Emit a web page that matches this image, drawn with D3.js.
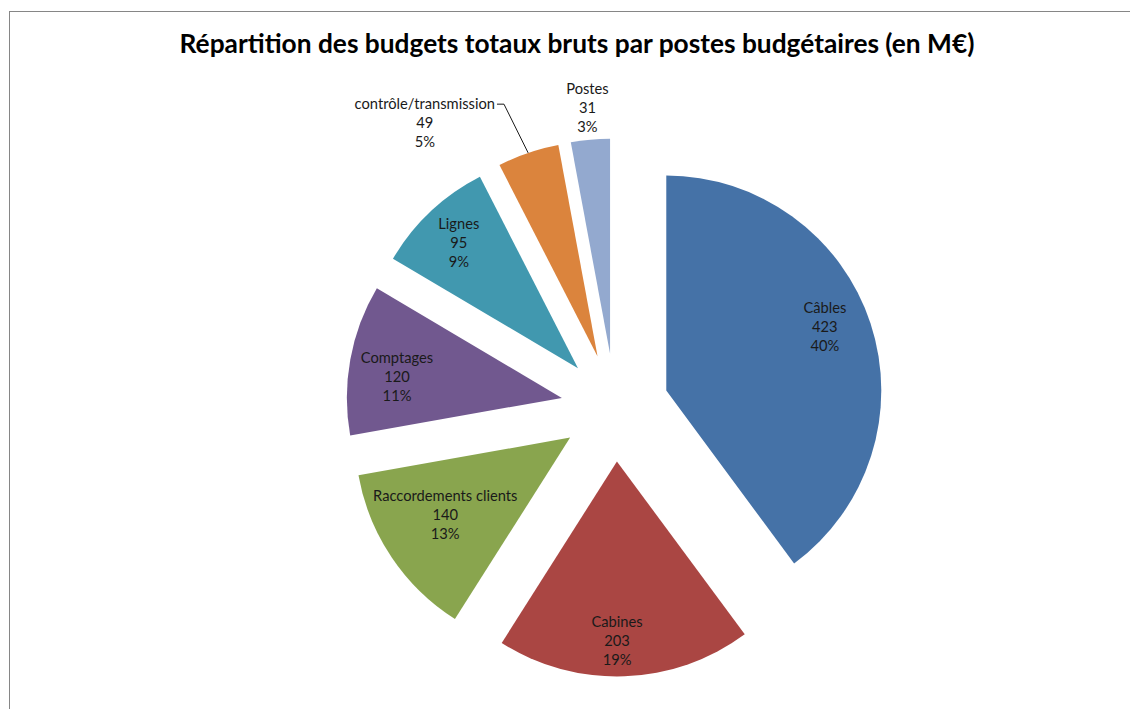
<!DOCTYPE html>
<html>
<head>
<meta charset="utf-8">
<script src="https://cdn.jsdelivr.net/npm/d3@7"></script>
<style>
  html, body { margin: 0; padding: 0; background: #ffffff; }
  svg { display: block; }
</style>
</head>
<body>
<svg id="chart" width="1130" height="709"></svg>
<script>
// Budget categories and gross totals (M€)
const categories = ["Câbles", "Cabines", "Raccordements clients", "Comptages", "Lignes", "contrôle/transmission", "Postes"];
const values = [423, 203, 140, 120, 95, 49, 31];
const colors = ["#4572A7", "#AA4643", "#89A54E", "#71588F", "#4198AF", "#DB843D", "#93A9CF"];

// Label layout: radial distance (fraction of radius) and angular shift (degrees) from slice middle
const labelRadius = [0.795, 0.835, 0.684, 0.773, 0.803, 1.35, 1.148];
const labelShift = [-3.7, 2, 2, -3, -0.4, -17.7, 0];
const leaderLine = [false, false, false, false, false, true, false];

const width = 1130, height = 709;
const cx = 615, cy = 407.5, radius = 215, explode = 54;
const font = "Lato, 'Open Sans', sans-serif";

const svg = d3.select("#chart");

// chart frame
svg.append("rect")
  .attr("x", 9.5).attr("y", 11.5)
  .attr("width", 1300).attr("height", 900)
  .attr("fill", "none").attr("stroke", "#868686").attr("stroke-width", 1);

svg.append("text")
  .attr("x", 577).attr("y", 53)
  .attr("text-anchor", "middle")
  .attr("font-family", font)
  .attr("font-weight", "bold")
  .attr("font-size", 26.3)
  .attr("fill", "#000")
  .text("Répartition des budgets totaux bruts par postes budgétaires (en M€)");

const total = d3.sum(values);
const data = categories.map((c, i) => ({ name: c, value: values[i], i }));

const pie = d3.pie().sort(null).value(d => d.value).startAngle(0).endAngle(2 * Math.PI);
const arc = d3.arc().innerRadius(0).outerRadius(radius);
const arcs = pie(data);

const dir = a => [Math.sin(a), -Math.cos(a)];

const g = svg.append("g").attr("transform", `translate(${cx},${cy})`);

arcs.forEach(a => {
  const mid = (a.startAngle + a.endAngle) / 2;
  const [ux, uy] = dir(mid);
  a.apex = [ux * explode, uy * explode];
  a.mid = mid;
});

g.selectAll("path.slice")
  .data(arcs)
  .join("path")
  .attr("class", "slice")
  .attr("transform", d => `translate(${d.apex[0]},${d.apex[1]})`)
  .attr("d", arc)
  .attr("fill", d => colors[d.data.i]);

const pct = v => Math.round(v / total * 100) + "%";
const lineH = 19;

arcs.forEach(a => {
  const i = a.data.i;
  const ang = a.mid + labelShift[i] * Math.PI / 180;
  const [ux, uy] = dir(ang);
  const lx = a.apex[0] + ux * radius * labelRadius[i];
  const ly = a.apex[1] + uy * radius * labelRadius[i];
  const t = g.append("text")
    .attr("text-anchor", "middle")
    .attr("font-family", font)
    .attr("font-size", 14.7)
    .attr("fill", "#1a1a1a");
  const lines = [a.data.name, String(a.data.value), pct(a.data.value)];
  lines.forEach((s, k) => {
    t.append("tspan")
      .attr("x", lx)
      .attr("y", ly + (k - 1) * lineH)
      .attr("dy", "0.35em")
      .text(s);
  });
  if (leaderLine[i]) {
    const first = t.select("tspan").node();
    const w = first.getComputedTextLength();
    const [mx, my] = dir(a.mid);
    const ex = a.apex[0] + mx * radius, ey = a.apex[1] + my * radius;
    const ty = ly - lineH;
    const tx = lx + w / 2 + 2;
    g.append("path")
      .attr("d", `M${ex},${ey}L${tx + 7},${ty}L${tx},${ty}`)
      .attr("fill", "none")
      .attr("stroke", "#1a1a1a")
      .attr("stroke-width", 1);
  }
});
</script>
</body>
</html>
